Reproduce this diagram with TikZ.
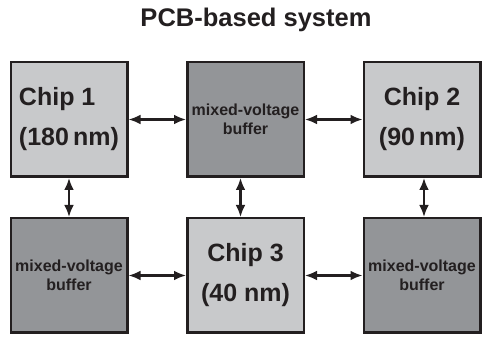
\documentclass[tikz,border=0pt]{standalone}
\usepackage{fontspec}
\setmainfont{Liberation Sans}
\usetikzlibrary{positioning,arrows.meta}

\definecolor{chipgray}{HTML}{C8C9CB}
\definecolor{buffergray}{HTML}{939598}
\definecolor{edgeblack}{HTML}{231F20}

\begin{document}
\begin{tikzpicture}[
    x=1pt, y=1pt,
    chip/.style={
        rectangle,
        draw=edgeblack,
        line width=2.5pt,
        fill=chipgray,
        minimum width=116.5pt,
        minimum height=114.5pt,
        inner sep=0pt,
        font=\fontsize{25}{40}\selectfont\bfseries,
        text=edgeblack,
        align=center
    },
    buffer/.style={
        chip,
        fill=buffergray,
        font=\fontsize{16}{19}\selectfont\bfseries
    },
    link/.style={
        draw=edgeblack,
        line width=2.5pt,
        {Latex[length=12pt,width=10pt]}-{Latex[length=12pt,width=10pt]}
    },
    node distance=39pt and 57.5pt
]
    \useasboundingbox (0,0) rectangle (483,337);

    \node (title) [anchor=base, text=edgeblack,
        font=\fontsize{25.5}{30}\selectfont\bfseries] at (256,310) {PCB-based system};

    % upper row
    \node (chipA) [chip, align=left] at (69,217.5) {Chip 1\\(180\,nm)};
    \node (bufB) [buffer, right=of chipA] {mixed-voltage\\buffer};
    \node (chipB) [chip, right=of bufB] {Chip 2\\(90\,nm)};

    % lower row
    \node (bufA) [buffer, below=of chipA] {mixed-voltage\\buffer};
    \node (chipC) [chip, below=of bufB] {Chip 3\\(40 nm)};
    \node (bufC) [buffer, below=of chipB] {mixed-voltage\\buffer};

    \draw[link] (chipA) -- (bufB);
    \draw[link] (bufB) -- (chipB);
    \draw[link] (bufA) -- (chipC);
    \draw[link] (chipC) -- (bufC);

    \draw[link] (chipA) -- (bufA);
    \draw[link] ([xshift=-5pt]bufB.south) -- ([xshift=-5pt]chipC.north);
    \draw[link] ([xshift=2pt]chipB.south) -- ([xshift=2pt]bufC.north);
\end{tikzpicture}
\end{document}
